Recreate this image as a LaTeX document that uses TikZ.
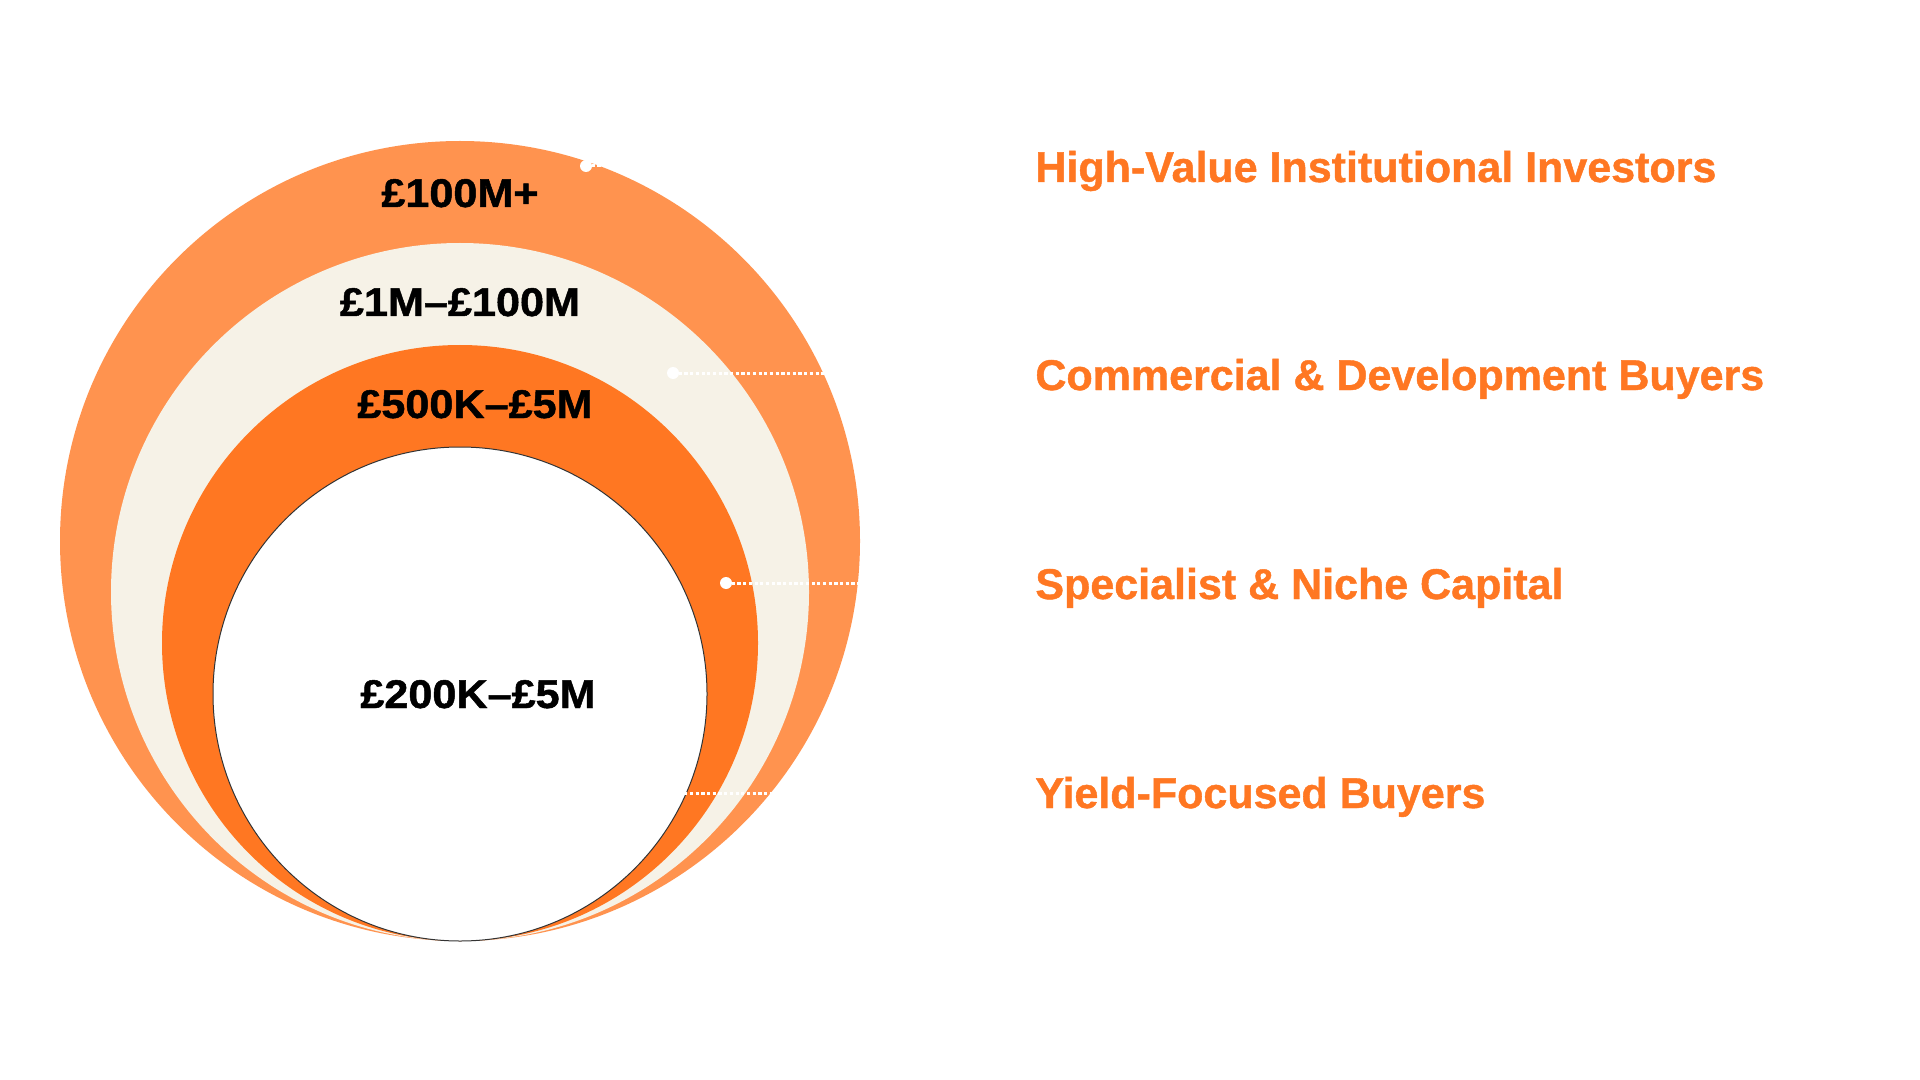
\documentclass[tikz,border=0pt]{standalone}
\usepackage{fontspec}
\setmainfont{Liberation Sans}
\newfontfamily\pricefont{Liberation Sans}[FakeStretch=1.08, FakeBold=1.2]
\newfontfamily\segfont{Liberation Sans}[FakeBold=1.0]
\definecolor{ringOuter}{HTML}{FF934F}
\definecolor{ringCream}{HTML}{F6F2E7}
\definecolor{ringOrange}{HTML}{FF7722}
\definecolor{labelOrange}{HTML}{FF7722}
\definecolor{rimGrey}{HTML}{333333}
\tikzset{
  price/.style={font=\pricefont\bfseries\fontsize{20pt}{24pt}\selectfont, text=black, anchor=base, inner sep=0pt},
  segment/.style={font=\segfont\bfseries\fontsize{21.5pt}{26pt}\selectfont, text=labelOrange, anchor=base west, inner sep=0pt},
  leaderdot/.style={circle, fill=white, draw=none, inner sep=0pt, minimum size=6pt},
  leader/.style={draw=white, line width=1.5pt, dash pattern=on 1.6pt off 1.25pt},
}
\begin{document}
\begin{tikzpicture}[x=0.5pt,y=-0.5pt]
\useasboundingbox[fill=white] (0,0) rectangle (1920,1080);
% concentric (bottom-tangent) circles
\fill[ringOuter]  (460,541) circle [radius=200pt];
\fill[ringCream]  (460,592) circle [radius=174.5pt];
\fill[ringOrange] (460,643) circle [radius=149pt];
\filldraw[fill=white, draw=rimGrey, line width=0.5pt] (460,694) circle [radius=123.5pt];
% price labels
\node[price] (p1) at (460,207) {£100M+};
\node[price] (p2) at (460,316) {£1M–£100M};
\node[price] (p3) at (475,418) {£500K–£5M};
\node[price] (p4) at (478,708) {£200K–£5M};
% segment labels
\node[segment] (s1) at (1035,182) {High-Value Institutional Investors};
\node[segment] (s2) at (1035,390) {Commercial \& Development Buyers};
\node[segment] (s3) at (1035,599) {Specialist \& Niche Capital};
\node[segment] (s4) at (1035,808) {Yield-Focused Buyers};
% leader dots and lines
\node[leaderdot] (d1) at (586,166) {};
\node[leaderdot] (d2) at (673,373) {};
\node[leaderdot] (d3) at (726,583) {};
\node[leaderdot] (d4) at (650,793) {};
\coordinate (e1) at (1010,166);
\coordinate (e2) at (1010,373);
\coordinate (e3) at (1010,583);
\coordinate (e4) at (1010,793);
\draw[leader] (d1.center) -- (e1);
\draw[leader] (d2.center) -- (e2);
\draw[leader] (d3.center) -- (e3);
\draw[leader] (d4.center) -- (e4);
\end{tikzpicture}
\end{document}
